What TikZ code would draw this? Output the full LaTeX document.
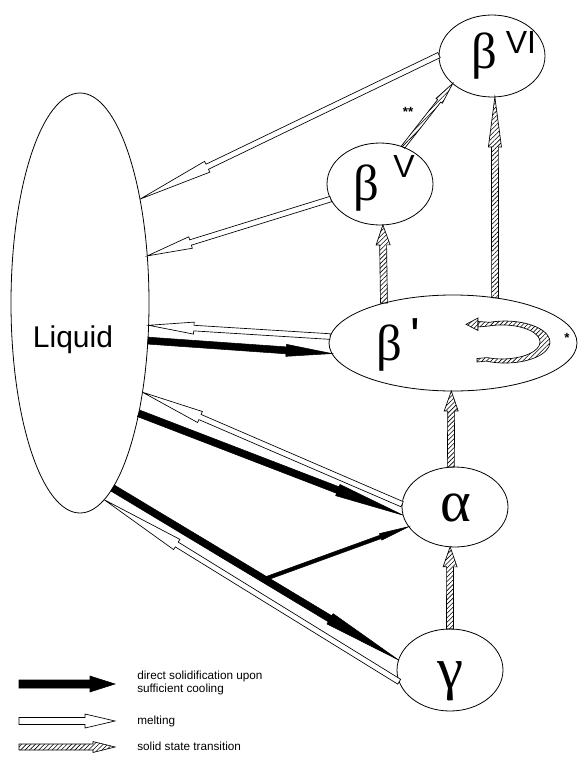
\documentclass[tikz,border=0pt]{standalone}
\usepackage{fontspec}
\setmainfont{Liberation Sans}
\newfontfamily\gfont{Liberation Sans}[Ligatures=TeXOff]
\newfontfamily\gserif{Liberation Serif}
\usetikzlibrary{calc,shapes.geometric,patterns.meta}
\tikzset{
  state/.style={draw, ellipse, line width=0.6pt, inner sep=0pt, outer sep=0pt},
  solidify/.style={fill=black, draw=black, line width=0.4pt},
  melt/.style={fill=white, draw=black, line width=0.5pt},
  transit/.style={draw=black, line width=0.5pt, pattern={Lines[angle=45,distance=2.4pt,line width=0.45pt]}},
  greek/.style={font=\gserif\fontsize{38}{38}\selectfont, inner sep=0pt},
  greekbig/.style={font=\gserif\fontsize{44}{44}\selectfont, inner sep=0pt},
  prime/.style={font=\gfont\fontsize{38}{38}\selectfont, inner sep=0pt},
  supr/.style={font=\gfont\fontsize{24}{24}\selectfont, inner sep=0pt},
  starmark/.style={font=\bfseries\fontsize{10}{10}\selectfont, inner sep=0pt},
  legtext/.style={font=\fontsize{8.8}{9.75}\selectfont, inner sep=0pt, anchor=west, align=left},
}
% #1 style, #2 start, #3 tip, #4 half shaft width, #5 half head width, #6 head length
\newcommand\arrowshape[6]{%
  \coordinate (aS) at (#2);
  \coordinate (aT) at (#3);
  \coordinate (aH) at ($(aT)!#6!(aS)$);
  \draw[#1] ($(aS)!#4!90:(aT)$) -- ($(aH)!#4!90:(aT)$) -- ($(aH)!#5!90:(aT)$) -- (aT)
    -- ($(aH)!#5!-90:(aT)$) -- ($(aH)!#4!-90:(aT)$) -- ($(aS)!#4!-90:(aT)$) -- cycle;}
\begin{document}
\begin{tikzpicture}[x=0.75pt,y=-0.75pt]
\useasboundingbox (0,0) rectangle (579,757);
% states
\node[state, minimum width=103.5pt, minimum height=315pt] (L) at (80,303) {};
\node[state, minimum width=79.5pt, minimum height=61.5pt] (b6) at (492,56) {};
\node[state, minimum width=79.5pt, minimum height=61.5pt] (b5) at (380,184) {};
\node[state, minimum width=186pt, minimum height=72pt] (bp) at (453,343) {};
\node[state, minimum width=79.5pt, minimum height=60pt] (al) at (455,507) {};
\node[state, minimum width=79.5pt, minimum height=61.5pt] (ga) at (450,670) {};
% labels
\node[font=\fontsize{22.5}{22.5}\selectfont, inner sep=0pt] (Lt) at (73,340) {Liquid};
\node[greek] (b6g) at (484,56) {β};
\node[supr] (b6s) at (521,42) {VI};
\node[greek] (b5g) at (366,188) {β};
\node[supr] (b5s) at (404,166) {V};
\node[greek] (bpg) at (389,348) {β};
\node[prime] (bpq) at (415,336) {'};
\node[greekbig] (alg) at (456,508) {α};
\node[greekbig] (gag) at (450,681) {γ};
\node[starmark] (st1) at (567,338) {*};
\node[starmark] (st2) at (408,112) {**};
% melting
\arrowshape{melt}{b6.179}{L.60}{2.1pt}{4.5pt}{56pt}
\arrowshape{melt}{b5.197}{L.35}{2.1pt}{4.5pt}{34pt}
\arrowshape{melt}{bp.177}{L.342}{2.1pt}{4.5pt}{34pt}
\arrowshape{melt}{al.177}{L.305}{2.1pt}{4.5pt}{47pt}
\arrowshape{melt}{ga.193}{L.277}{2.1pt}{4.5pt}{64pt}
% solidification
\arrowshape{solidify}{L.331}{bp.185}{2.6pt}{4.5pt}{34.5pt}
\arrowshape{solidify}{L.298}{al.189}{2.6pt}{4.5pt}{52.5pt}
\arrowshape{solidify}{L.280}{ga.169}{2.6pt}{4.5pt}{60pt}
\coordinate (br) at ($(L.280)!0.53!(ga.169)$);
\arrowshape{solidify}{br}{al.203}{1.35pt}{2.6pt}{22.5pt}
% solid state transitions
\arrowshape{transit}{ga.90}{al.263}{2.6pt}{5.25pt}{15pt}
\arrowshape{transit}{al.96}{bp.268}{2.6pt}{5.25pt}{15pt}
\arrowshape{transit}{bp.150}{b5.274}{2.6pt}{5.25pt}{15pt}
\arrowshape{transit}{bp.47}{b6.274}{2.6pt}{4.9pt}{37.5pt}
\arrowshape{transit}{b5.58}{b6.215}{1.5pt}{3pt}{16.5pt}
% cyclic transition inside beta'
\draw[transit] (478,321.5) -- (489.6,322.3)
  arc[start angle=-110, end angle=115, x radius=45, y radius=21]
  -- (477,362) -- (477,358.5) -- (487.2,357.6)
  arc[start angle=113, end angle=-110, x radius=38, y radius=17]
  -- (478,327) -- cycle;
\draw[transit] (478,318) -- (466,324.3) -- (478,330.5) -- cycle;
% legend
\coordinate (k1a) at (19,684); \coordinate (k1b) at (115,684);
\coordinate (k2a) at (19,721); \coordinate (k2b) at (115,721);
\coordinate (k3a) at (19,747); \coordinate (k3b) at (115,747);
\arrowshape{solidify}{k1a}{k1b}{3pt}{6pt}{18.75pt}
\arrowshape{melt}{k2a}{k2b}{2.6pt}{5.25pt}{22.5pt}
\arrowshape{transit}{k3a}{k3b}{2.25pt}{4.1pt}{16.5pt}
\node[legtext] (lg1) at (137,683) {direct solidification upon\\sufficient cooling};
\node[legtext] (lg2) at (137,721) {melting};
\node[legtext] (lg3) at (137,746) {solid state transition};
\end{tikzpicture}
\end{document}
